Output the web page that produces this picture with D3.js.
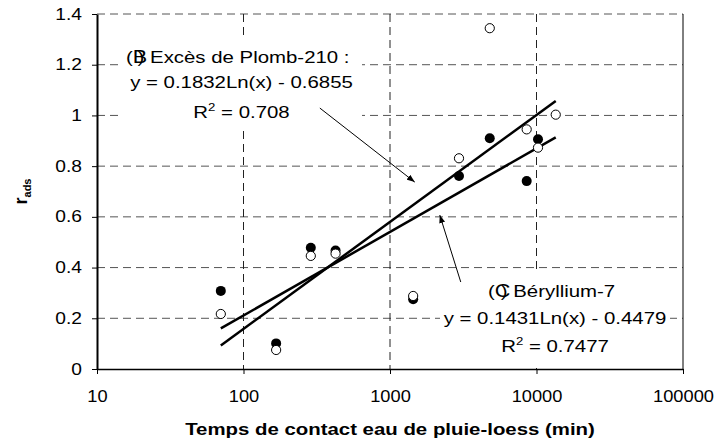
<!DOCTYPE html>
<meta charset="utf-8">
<style>
body { margin: 0; background: #fff; }
text { font-family: "Liberation Sans", Arial, sans-serif; fill: #000; }
.axis text { font-size: 16px; }
.axis line { stroke: #000; }
.grid-h line { stroke: #555; stroke-dasharray: 8,5; }
.grid-v line { stroke: #222; stroke-dasharray: 8,5; }
.fit { fill: none; stroke: #000; stroke-width: 2.5px; }
.note { font-size: 17px; }
.arrow { stroke: #000; stroke-width: 1px; }
</style>
<svg width="714" height="443"></svg>
<script src="https://cdn.jsdelivr.net/npm/d3@7/dist/d3.min.js"></script>
<script>

// contact time (min) and adsorption ratio for the two tracers
var pbTime = [70, 167, 288, 425, 1439, 2958, 4797, 8570, 10240, 13530];
var pbRads = [0.217, 0.075, 0.446, 0.455, 0.288, 0.831, 1.344, 0.945, 0.873, 1.003];
var beTime = [70, 167, 288, 425, 1439, 2958, 4797, 8570, 10240];
var beRads = [0.308, 0.101, 0.478, 0.467, 0.275, 0.761, 0.910, 0.741, 0.906];

// log fits y = a*Ln(x) + b
var pbFit = [0.1832, -0.6855];
var beFit = [0.1431, -0.4479];

var xTicks = [10, 100, 1000, 10000, 100000];
var xTickLabels = ["10", "100", "1000", "10000", "100000"];
var yTicks = [0, 0.2, 0.4, 0.6, 0.8, 1, 1.2, 1.4];
var yTickLabels = ["0", "0.2", "0.4", "0.6", "0.8", "1", "1.2", "1.4"];

var svg = d3.select("svg"),
  margin = {top: 14, right: 31, bottom: 74, left: 97},
  width = svg.attr("width") - margin.left - margin.right,
  height = svg.attr("height") - margin.top - margin.bottom;

var x = d3.scaleLog().domain([10, 100000]).range([0, width]),
  y = d3.scaleLinear().domain([0, 1.4]).range([height, 0]);

svg.append("defs").append("marker")
  .attr("id", "head")
  .attr("markerUnits", "userSpaceOnUse")
  .attr("markerWidth", 8).attr("markerHeight", 6)
  .attr("refX", 8).attr("refY", 3)
  .attr("orient", "auto")
  .append("path").attr("d", "M0,0L8,3L0,6z").attr("fill", "#000");

var g = svg.append("g")
  .attr("transform", "translate(" + margin.left + "," + margin.top + ")");

// grid
g.append("g").attr("class", "grid-h")
  .selectAll("line").data(yTicks.slice(1))
  .enter().append("line")
    .attr("x1", 0).attr("x2", width)
    .attr("y1", function(d) { return y(d); })
    .attr("y2", function(d) { return y(d); });

g.append("g").attr("class", "grid-v")
  .selectAll("line").data(xTicks.slice(1, -1))
  .enter().append("line")
    .attr("y1", 0).attr("y2", height)
    .attr("x1", function(d) { return x(d); })
    .attr("x2", function(d) { return x(d); });

g.append("line")
  .attr("x1", width).attr("x2", width)
  .attr("y1", 0).attr("y2", height)
  .attr("stroke", "#000");

// white boxes behind the equations
g.append("rect").attr("x", 24).attr("y", 21).attr("width", 241).attr("height", 93).attr("fill", "#fff");
g.append("rect").attr("x", 343).attr("y", 258).attr("width", 230).attr("height", 96).attr("fill", "#fff");

// fitted curves (straight on a log axis)
function fitLine(coef, xs) {
  var ext = d3.extent(xs);
  return d3.line()
    .x(function(d) { return x(d); })
    .y(function(d) { return y(coef[0] * Math.log(d) + coef[1]); })(ext);
}
g.append("path").attr("class", "fit").attr("d", fitLine(pbFit, pbTime));
g.append("path").attr("class", "fit").attr("d", fitLine(beFit, pbTime));

// arrows from labels to curves
var arrows = [
  [[332, 1.029], [1476, 0.737]],
  [[3041, 0.343], [2187, 0.607]]
];
g.selectAll(".arrow").data(arrows)
  .enter().append("line")
    .attr("class", "arrow")
    .attr("x1", function(d) { return x(d[0][0]); })
    .attr("y1", function(d) { return y(d[0][1]); })
    .attr("x2", function(d) { return x(d[1][0]); })
    .attr("y2", function(d) { return y(d[1][1]); })
    .attr("marker-end", "url(#head)");

// points: filled first, open ones on top
g.append("g").selectAll("circle")
  .data(beTime.map(function(t, i) { return [t, beRads[i]]; }))
  .enter().append("circle")
    .attr("r", 5)
    .attr("cx", function(d) { return x(d[0]); })
    .attr("cy", function(d) { return y(d[1]); })
    .attr("fill", "#000");

g.append("g").selectAll("circle")
  .data(pbTime.map(function(t, i) { return [t, pbRads[i]]; }))
  .enter().append("circle")
    .attr("r", 4.6)
    .attr("cx", function(d) { return x(d[0]); })
    .attr("cy", function(d) { return y(d[1]); })
    .attr("fill", "#fff")
    .attr("stroke", "#000")
    .attr("stroke-width", 1);

// axes
var xAxis = g.append("g")
  .attr("class", "axis")
  .attr("transform", "translate(0," + height + ")")
  .call(d3.axisBottom(x).tickValues(xTicks).tickSize(5).tickSizeOuter(0).tickPadding(16.6)
    .tickFormat(function(d, i) { return xTickLabels[i]; }));
xAxis.select(".domain").attr("stroke-width", 1.5);
xAxis.selectAll("text").attr("transform", "scale(1.14,1)");

var yAxis = g.append("g")
  .attr("class", "axis")
  .call(d3.axisLeft(y).tickValues(yTicks).tickSize(5).tickSizeOuter(0).tickPadding(7.5)
    .tickFormat(function(d, i) { return yTickLabels[i]; }));
yAxis.select(".domain").attr("stroke-width", 2);
yAxis.selectAll("text").attr("transform", "scale(1.2,1)");

// axis titles
svg.append("text")
  .attr("transform", "translate(" + (margin.left + width / 2) + ",435) scale(1.2,1)")
  .attr("text-anchor", "middle")
  .style("font-size", "17px").style("font-weight", "bold")
  .text("Temps de contact eau de pluie-loess (min)");

var yt = svg.append("text")
  .attr("transform", "translate(27," + (margin.top + height / 2) + ") rotate(-90)")
  .attr("text-anchor", "middle")
  .style("font-weight", "bold");
yt.append("tspan").style("font-size", "18px").text("r");
yt.append("tspan").style("font-size", "11px").attr("dy", 4).text("ads");

// equation labels
function note(px, py, anchor) {
  return svg.append("text")
    .attr("class", "note")
    .attr("text-anchor", anchor)
    .attr("transform", "translate(" + px + "," + py + ") scale(1.2,1)");
}
function rSquared(t, val) {
  t.append("tspan").text("R");
  t.append("tspan").attr("dy", -7).style("font-size", "11px").text("2");
  t.append("tspan").attr("dy", 7).text(" = " + val);
}

var b1 = note(126, 63.3, "start");
b1.append("tspan").text("(");
b1.append("tspan").style("font-size", "18px").text("B");
b1.append("tspan").attr("dx", -8).text(")");
b1.append("tspan").text(" Excès de Plomb-210 :");
note(241.5, 87.5, "middle").text("y = " + pbFit[0] + "Ln(x) - " + Math.abs(pbFit[1]));
rSquared(note(241.5, 118.3, "middle"), "0.708");

var c1 = note(488, 296.7, "start");
c1.append("tspan").text("(");
c1.append("tspan").style("font-size", "18px").text("C");
c1.append("tspan").attr("dx", -8).text(")");
c1.append("tspan").text(" Béryllium-7");
note(555, 324, "middle").text("y = " + beFit[0] + "Ln(x) - " + Math.abs(beFit[1]));
rSquared(note(555, 351.7, "middle"), "0.7477");

</script>
